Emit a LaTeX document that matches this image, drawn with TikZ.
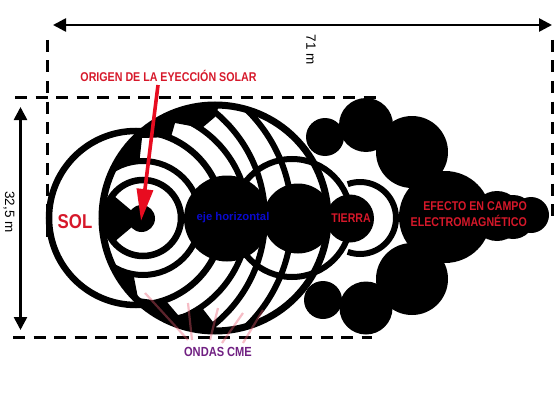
\documentclass[tikz,border=0pt]{standalone}
\usepackage{fontspec}
\setmainfont{Liberation Sans}
\usetikzlibrary{arrows.meta}
\definecolor{solred}{RGB}{214,24,42}
\definecolor{arrowred}{RGB}{232,12,32}
\definecolor{ejeblue}{RGB}{10,10,205}
\definecolor{ondaspurple}{RGB}{112,32,130}
\definecolor{raypink}{RGB}{232,90,112}

\begin{document}
\begin{tikzpicture}[
    x=1pt, y=-1pt,
    % Line styles
    ring/.style={draw=black, line width=6.5pt},
    arcline/.style={draw=black, line width=6pt},
    limit/.style={draw=black, line width=3pt, dash pattern=on 12pt off 8.5pt},
    measure/.style={draw=black, line width=2.6pt, {Triangle[length=13pt,width=13pt]}-{Triangle[length=13pt,width=13pt]}},
    ray/.style={draw=raypink, line width=2.2pt, opacity=0.4},
    % Label styles
    redlabel/.style={font=\bfseries\fontsize{#1}{#1}\selectfont, text=solred, inner sep=0pt, xscale=0.84, transform shape},
    dimlabel/.style={font=\fontsize{13.5}{13.5}\selectfont, inner sep=0pt, rotate=-90}
]
\useasboundingbox (0,0) rectangle (557,420);

% Dashed limits
\draw[limit] (47,40) -- (47,240);
\draw[limit] (552,40) -- (552,220);
\draw[limit] (15,97) -- (376,97);
\draw[limit] (13,337) -- (372,337);

% Dimension arrows
\coordinate (width_left) at (53,25);
\coordinate (width_right) at (552,25);
\coordinate (height_top) at (20.5,107);
\coordinate (height_bottom) at (20.5,330);
\draw[measure] (width_left) -- (width_right);
\draw[measure] (height_top) -- (height_bottom);
\node[dimlabel] (width_label) at (311,50) {71 m};
\node[dimlabel] (height_label) at (9,212) {32,5 m};

% Black wedges and wave fronts held inside the big circle
\begin{scope}
    \clip (215,218) circle[radius=113];
    \fill[black] (100,218) -- (139,165) -- (142,138) -- (171,137) -- (175,123) -- (202,128) -- (215,117)
        -- (221,100) -- (90,95) -- cycle;
    \fill[black] (100,218) -- (133,272) -- (138,298) -- (167,302) -- (178,315) -- (203,309) -- (213,322)
        -- (221,336) -- (90,340) -- cycle;
    \fill[white] (143,218) circle[radius=57];
    \foreach \cx/\r in {143/57, 140/108, 128/137, 140/152} {
        \draw[arcline] (\cx,218) circle[radius=\r];
    }
\end{scope}

% Sun outline and inner ring
\foreach \cx/\r in {136/87, 143/38} {
    \draw[ring] (\cx,218) circle[radius=\r];
}
\fill[black] (141.5,219) -- ++(140:38) arc[start angle=140, end angle=220, radius=38] -- cycle;
\draw[ring, line width=7pt] (215,218) circle[radius=113];
\draw[arcline] (292,218) circle[radius=59];
\draw[arcline] (360,218) ++(-110:36) arc[start angle=-110, end angle=110, radius=36];

% Black discs along the axis
\foreach \cx/\r in {141.5/13.5, 227/43, 298/35, 350/24} {
    \fill[black] (\cx,218.5) circle[radius=\r];
}

% Field lobes on the right
\foreach \cx/\cy/\r in {325/137/19, 366/125/27, 412/152/36, 445/217/46, 497/216/25,
                        513/217/22, 531/215/18, 412/279/36, 366/308/26.5, 323/300/19} {
    \fill[black] (\cx,\cy) circle[radius=\r];
}

% CME rays at the bottom
\foreach \xa/\ya/\xb/\yb in {145/293/188/340, 188/303/192/340, 218/308/210/340, 243/313/222/343, 263/310/243/343} {
    \draw[ray] (\xa,\ya) -- (\xb,\yb);
}

% Labels
\node[redlabel=12.7] (origen) at (168.5,76) {ORIGEN DE LA EYECCIÓN SOLAR};
\node[redlabel=20] (sol) at (75,222) {SOL};
\node[font=\bfseries\fontsize{11.3}{11.3}\selectfont, text=ejeblue, inner sep=0pt] (eje) at (233,218) {eje horizontal};
\node[redlabel=12.6] (tierra) at (351,218) {TIERRA};
\node[redlabel=12.7, align=right, anchor=east, font=\bfseries\fontsize{12.7}{16}\selectfont] (efecto) at (527,214) {EFECTO EN CAMPO\\ELECTROMAGNÉTICO};
\node[redlabel=13.2, text=ondaspurple] (ondas) at (218,352) {ONDAS CME};

% Red arrow to the origin
\coordinate (origen_tail) at (158,85);
\coordinate (origen_tip) at (141,221);
\draw[draw=arrowred, line width=3.6pt, -{Triangle[length=32pt,width=16pt,fill=arrowred]}] (origen_tail) -- (origen_tip);

\end{tikzpicture}
\end{document}
